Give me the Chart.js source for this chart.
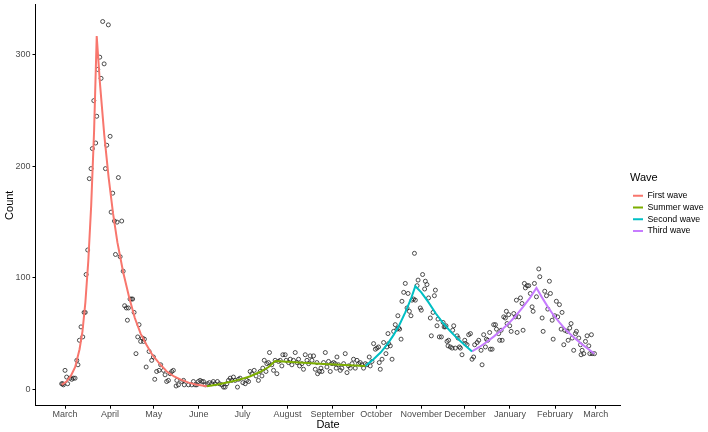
<!DOCTYPE html>
<html>
<head>
<meta charset="utf-8">
<script src="https://cdn.jsdelivr.net/npm/chart.js@4/dist/chart.umd.min.js"></script>
<style>
html, body { margin: 0; padding: 0; background: #fff; }
</style>
</head>
<body>
<canvas id="waveChart" width="708" height="432"></canvas>
<script>
// x values are days counted from 1 March 2020
var monthDays = [0, 31, 61, 92, 122, 153, 184, 214, 245, 275, 306, 337, 365];
var monthNames = ['March', 'April', 'May', 'June', 'July', 'August', 'September',
    'October', 'November', 'December', 'January', 'February', 'March'];
var countTicks = [0, 100, 200, 300];

// observed daily counts (circles)
var obsDay = [-2.3, -1.6, -1.1, 0, 1.1, 1.8, 3.4, 4.6, 5.7, 6.9, 8.1, 8.9, 9.9, 11, 12.2, 13.1, 13.9, 14.5, 15.6,
    16.7, 17.9, 18.8, 19.8, 21.1, 21.8, 22.5, 23.9, 24.8, 25.9, 26.9, 27.8, 28.7, 29.8, 31, 31.7, 32.8, 34, 34.7,
    35.8, 36.7, 37.9, 39, 40, 41, 42.2, 42.9, 43.6, 44.7, 45.6, 46.5, 47.5, 48.8, 50, 50.9, 52, 53.2, 54, 54.6,
    55.8, 57.8, 59.6, 60.8, 61.7, 63, 64.7, 65.8, 67.7, 68.8, 69.9, 71.1, 72.3, 73.4, 74.5, 76.4, 76.9, 78, 80.3,
    81.5, 82, 84.9, 87.2, 88.3, 89.5, 90.6, 91.7, 92.9, 94, 95.2, 96.4, 98, 99.3, 101, 102, 103.2, 104.8, 106.2,
    107.8, 109, 110.1, 111.3, 112.4, 113.6, 114.7, 115.8, 117, 118.6, 119.3, 120.4, 122.3, 123.9, 125, 126.2,
    127.3, 128.5, 130.1, 131.4, 133, 134.2, 135.4, 136, 137, 138.2, 138.8, 139.9, 140.6, 142.2, 143.4, 144.5,
    145.7, 146.8, 148, 149.1, 149.8, 151.4, 152.1, 153.7, 154.9, 156, 157.1, 158.3, 159.5, 160.6, 161.3, 162.9,
    164, 165.2, 166.4, 167.5, 168.6, 169.8, 170.9, 172.1, 173.2, 173.7, 175, 176, 176.7, 177.8, 179, 180.1, 181.2,
    182.4, 183.6, 184.7, 185.8, 186.5, 187, 188.1, 189.3, 190.4, 191.6, 192.7, 193.9, 195, 196.2, 197.4, 198.4,
    199.6, 200.8, 201.9, 203, 204.2, 205.3, 206.5, 207.6, 209.2, 209.9, 211.1, 212.2, 213.4, 214.5, 215.6, 216.1,
    216.8, 218, 219.1, 220.7, 221.4, 222.1, 222.5, 223.7, 224.9, 226, 227.1, 228.3, 228.9, 229.4, 230.1, 231.1,
    231.7, 232.9, 234, 235.2, 235.9, 236.8, 237.9, 238.6, 239.7, 240.3, 240.9, 242.1, 242.8, 244.3, 245, 245.9,
    247.3, 247.8, 248.9, 250, 251.2, 251.9, 253.1, 254, 254.7, 255.8, 256.5, 257.4, 258.8, 260, 260.7, 261.5, 262,
    262.7, 263.4, 263.8, 265, 266.2, 266.6, 267.3, 268.4, 269.6, 270.3, 271.2, 271.9, 273, 274.9, 275.3, 276.5,
    277.6, 278.8, 279.9, 281, 281.7, 283.4, 284.5, 286.1, 286.8, 287.9, 289.1, 289.8, 290.7, 292, 292.5, 293.7,
    294.8, 296, 296.7, 298.2, 298.9, 299.9, 300.6, 301.7, 302.8, 303.5, 304, 305.1, 305.8, 306.8, 308.6, 309.7,
    310.4, 310.9, 312, 313.2, 314.3, 315, 315.9, 316.6, 317.8, 318.9, 320, 321.2, 321.9, 322.8, 324.2, 325.8, 326.5,
    328.1, 328.8, 329.9, 331.1, 332, 333.1, 333.8, 335, 335.7, 336.8, 337.9, 338.8, 340, 341.2, 341.8, 343, 343.7,
    345.3, 346, 347.1, 348, 348.8, 349.8, 351, 351.7, 353.3, 354.5, 354.9, 355.6, 356.7, 357.9, 359, 360.2, 360.9,
    362, 362.5, 364.1];
var obsCount = [5, 5, 4, 17, 11, 5, 10, 9, 10, 10, 26, 22, 44, 56, 47, 69, 69, 103, 125,
    189, 198, 216, 259, 221, 245, 287, 298, 279, 330, 292, 198, 219, 327, 227, 159, 176, 151, 121,
    150, 190, 119, 151, 106, 75, 73, 62, 73, 81, 81, 81, 69, 32, 47, 58, 43, 46, 43, 45,
    20, 34, 26, 29, 9, 16, 17, 22, 17, 13, 7, 8, 14, 16, 17, 3, 8, 4, 7,
    8, 4, 4, 4, 7, 4, 4, 7, 8, 7, 7, 4, 5, 6, 5, 7, 5, 7, 5,
    4, 2, 2, 5, 8, 10, 8, 11, 8, 2, 9, 10, 6, 5, 8, 7,
    16, 14, 17, 12, 8, 16, 12, 19, 26, 16, 23, 24, 33, 22, 17, 26,
    14, 25, 26, 21, 31, 31, 26, 24, 27, 22, 26, 33, 24, 27, 21, 23,
    18, 31, 26, 23, 30, 26, 30, 18, 24, 14, 16, 19, 16, 24, 33, 20, 25,
    16, 23, 24, 23, 19, 29, 22, 17, 19, 23, 32, 15, 21, 19, 23, 27,
    19, 26, 23, 24, 22, 19, 23, 22, 29, 21, 25, 41, 36, 37, 38, 24,
    18, 27, 42, 32, 38, 50, 41, 39, 27, 52, 58, 54, 66, 55, 54, 45,
    79, 87, 95, 73, 86, 70, 66, 80, 81, 122, 80, 93, 98, 73, 71, 103,
    90, 97, 94, 82, 64, 48, 69, 84, 89, 57, 63, 47, 47, 60, 56, 56, 57,
    43, 39, 44, 38, 37, 53, 57, 37, 48, 46, 38, 37, 31, 44, 41, 40,
    49, 50, 27, 29, 40, 42, 44, 35, 22, 49, 38, 45, 44, 51, 36, 36,
    58, 58, 54, 50, 44, 53, 44, 65, 64, 70, 59, 67, 57, 52, 68, 65,
    80, 51, 65, 82, 77, 53, 95, 91, 93, 93, 86, 74, 70, 95, 83, 108, 101,
    64, 52, 88, 84, 72, 97, 86, 62, 45, 66, 79, 65, 76, 54, 69, 40, 53,
    52, 44, 55, 59, 46, 35, 50, 52, 46, 40, 31, 35, 32, 43, 48, 39, 32,
    49, 32, 32];

// fitted wave curves
var firstWaveDay = [-2.3, 1, 4, 7, 10, 12, 14, 16, 18, 20, 21.8, 24, 27, 30, 33, 36, 40, 44, 48, 52, 56, 60, 65, 70, 75, 80, 85, 90, 97.5];
var firstWaveCount = [4, 7, 12, 20, 36, 52, 78, 115, 165, 232, 317, 275, 228, 190, 158, 132, 105, 83, 64, 50, 40, 31, 23, 16, 11.5, 8.5, 6, 4.3, 2.8];
var summerWaveDay = [97.5, 105, 113, 120, 127, 134, 140, 144.5, 175, 206.5];
var summerWaveCount = [2.8, 4.3, 6.5, 8.7, 11.5, 15.5, 20, 25.3, 23, 21];
var secondWaveDay = [206.5, 212, 217, 222, 226, 230, 234, 238, 240.9, 245, 250, 255, 260, 265, 270, 275, 279.9];
var secondWaveCount = [21, 26.7, 33, 41, 48.8, 58, 69, 81.5, 92.5, 87, 78, 68, 59.5, 52, 45.5, 39.5, 34];
var thirdWaveDay = [279.9, 285, 290, 295, 300, 305, 310, 315, 320, 324.2, 328, 332, 336, 340, 345, 350, 355, 360, 364];
var thirdWaveCount = [34, 38, 42.5, 47.5, 53, 59, 66, 74, 82.5, 91, 82.5, 74, 66.5, 60, 52.5, 46.5, 41, 36, 32];

function pairUp(xs, ys) {
    return xs.map(function (x, i) { return { x: x, y: ys[i] }; });
}

function waveLine(label, xs, ys, colour) {
    return {
        label: label,
        data: pairUp(xs, ys),
        showLine: true,
        borderColor: colour,
        backgroundColor: colour,
        borderWidth: 2,
        pointRadius: 0,
        tension: 0,
        fill: false,
        order: 0
    };
}

Chart.defaults.font.family = '"Liberation Sans", Arial, sans-serif';

var waveChart = new Chart(document.getElementById('waveChart').getContext('2d'), {
    type: 'scatter',
    data: {
        datasets: [{
            label: 'Observed',
            data: pairUp(obsDay, obsCount),
            pointRadius: 2,
            pointBorderWidth: 0.8,
            pointBorderColor: '#222',
            pointBackgroundColor: 'rgba(255,255,255,0)',
            order: 1
        },
            waveLine('First wave', firstWaveDay, firstWaveCount, '#F8766D'),
            waveLine('Summer wave', summerWaveDay, summerWaveCount, '#7CAE00'),
            waveLine('Second wave', secondWaveDay, secondWaveCount, '#00BFC4'),
            waveLine('Third wave', thirdWaveDay, thirdWaveCount, '#C77CFF')]
    },
    options: {
        responsive: false,
        animation: false,
        layout: { padding: { left: 0, top: 3, right: 0, bottom: 0 } },
        scales: {
            x: {
                type: 'linear',
                min: -20.3,
                max: 382,
                afterBuildTicks: function (s) { s.ticks = monthDays.map(function (v) { return { value: v }; }); },
                afterFit: function (s) { s.height = 26.3; s.paddingLeft = 0; s.paddingRight = 0; },
                ticks: {
                    autoSkip: false,
                    maxRotation: 0,
                    padding: 0,
                    color: '#4d4d4d',
                    font: { size: 9 },
                    callback: function (v, i) { return monthNames[i]; }
                },
                grid: { drawOnChartArea: false, color: '#000', tickLength: 3 },
                border: { color: '#000', width: 1 },
                title: { display: true, text: 'Date', color: '#000', font: { size: 11 }, padding: { top: 0, bottom: 0 } }
            },
            y: {
                type: 'linear',
                min: -14.7,
                max: 345,
                afterBuildTicks: function (s) { s.ticks = countTicks.map(function (v) { return { value: v }; }); },
                afterFit: function (s) { s.width = 35.5; s.paddingTop = 0; s.paddingBottom = 0; },
                ticks: { padding: 2, color: '#4d4d4d', font: { size: 9 } },
                grid: { drawOnChartArea: false, color: '#000', tickLength: 3 },
                border: { color: '#000', width: 1 },
                title: { display: true, text: 'Count', color: '#000', font: { size: 11 }, padding: { top: 3, bottom: 0 } }
            },
            // empty spacer between the panel and the legend
            gap: {
                type: 'linear',
                position: 'right',
                display: true,
                afterFit: function (s) { s.width = 9.5; s.paddingTop = 0; s.paddingBottom = 0; },
                ticks: { display: false },
                grid: { display: false },
                border: { display: false }
            }
        },
        plugins: {
            tooltip: { enabled: false },
            legend: {
                position: 'right',
                align: 'center',
                fullSize: false,
                maxWidth: 78,
                labels: {
                    filter: function (item) { return item.datasetIndex > 0; },
                    usePointStyle: true,
                    pointStyle: 'line',
                    pointStyleWidth: 10,
                    color: '#000',
                    font: { size: 8.8 },
                    padding: 3
                },
                title: {
                    display: true,
                    text: 'Wave',
                    color: '#000',
                    position: 'start',
                    font: { size: 11 },
                    padding: { top: 0, bottom: 3 }
                }
            }
        }
    }
});
</script>
</body>
</html>
